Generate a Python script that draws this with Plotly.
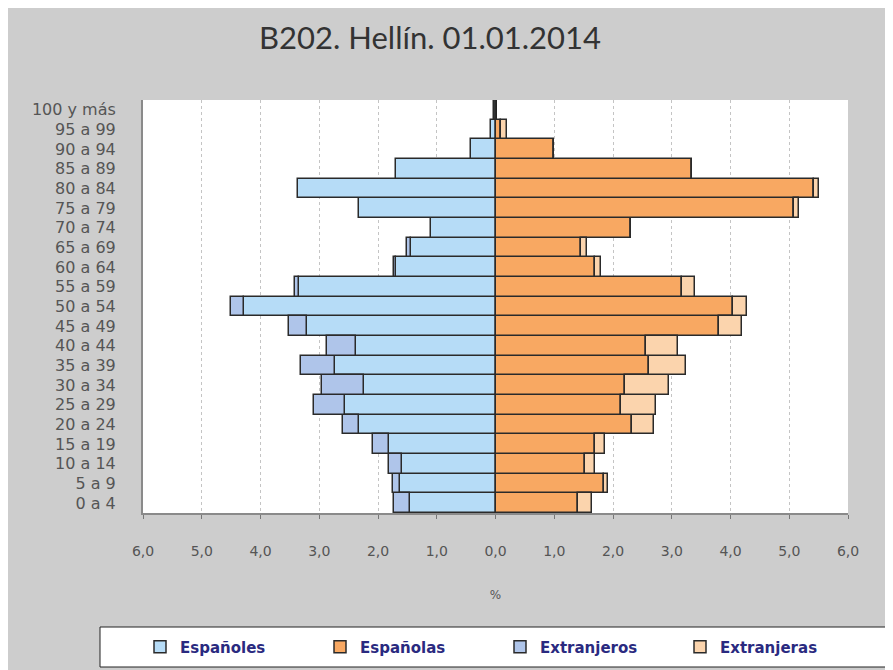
import plotly.graph_objects as go

# ---------------- data ----------------
ages = ["0 a 4", "5 a 9", "10 a 14", "15 a 19", "20 a 24", "25 a 29", "30 a 34",
        "35 a 39", "40 a 44", "45 a 49", "50 a 54", "55 a 59", "60 a 64", "65 a 69",
        "70 a 74", "75 a 79", "80 a 84", "85 a 89", "90 a 94", "95 a 99", "100 y más"]

espanoles = [1.45, 1.62, 1.60, 1.82, 2.32, 2.57, 2.23, 2.73, 2.37, 3.21, 4.28,
             3.34, 1.69, 1.43, 1.09, 2.33, 3.37, 1.69, 0.41, 0.07, 0.02]
extranjeros = [0.27, 0.13, 0.22, 0.26, 0.27, 0.52, 0.72, 0.58, 0.49, 0.30, 0.23,
               0.08, 0.03, 0.07, 0.00, 0.00, 0.00, 0.00, 0.00, 0.00, 0.00]
espanolas = [1.41, 1.84, 1.52, 1.69, 2.33, 2.13, 2.20, 2.61, 2.57, 3.80, 4.05,
             3.17, 1.69, 1.45, 2.30, 5.08, 5.42, 3.34, 0.99, 0.10, 0.00]
extranjeras = [0.24, 0.08, 0.17, 0.17, 0.36, 0.61, 0.76, 0.64, 0.53, 0.39, 0.23,
               0.22, 0.10, 0.10, 0.00, 0.08, 0.08, 0.00, 0.00, 0.09, 0.00]

x_tick_values = [-6, -5, -4, -3, -2, -1, 0, 1, 2, 3, 4, 5, 6]
x_tick_labels = ["6,0", "5,0", "4,0", "3,0", "2,0", "1,0", "0,0",
                 "1,0", "2,0", "3,0", "4,0", "5,0", "6,0"]

# ---------------- figure ----------------
W, H = 893, 670
ML, MR, MT, MB = 135, 53, 92, 165
PW, PH = W - ML - MR, H - MT - MB

outline = dict(color="#2a2a2a", width=1.5)

fig = go.Figure()
fig.add_bar(y=ages, x=[-v for v in espanoles], orientation="h", name="Españoles",
            marker=dict(color="#B6DCF7", line=outline))
fig.add_bar(y=ages, x=espanolas, orientation="h", name="Españolas",
            marker=dict(color="#F8A862", line=outline))
fig.add_bar(y=ages, x=[-v for v in extranjeros], orientation="h", name="Extranjeros",
            marker=dict(color="#AFC5EA", line=outline))
fig.add_bar(y=ages, x=extranjeras, orientation="h", name="Extranjeras",
            marker=dict(color="#FBD4AD", line=outline))


def px_x(p):
    return (p - ML) / PW


def px_y(p):
    return (H - MB - p) / PH


fig.update_layout(
    width=W, height=H,
    margin=dict(l=ML, r=MR, t=MT, b=MB),
    paper_bgcolor="#CDCDCD",
    plot_bgcolor="white",
    barmode="relative",
    bargap=0,
    title=dict(text="B202. Hellín. 01.01.2014", xref="container", yref="container",
               x=422 / W, y=1 - 30 / H, xanchor="center", yanchor="middle",
               font=dict(family="Lato", size=31, color="#333333")),
    xaxis=dict(range=[-6, 6], tickvals=x_tick_values, ticktext=x_tick_labels,
               showgrid=True, gridcolor="#c4c4c4", griddash="dot", gridwidth=1,
               zeroline=True, zerolinecolor="#222222", zerolinewidth=2,
               showline=True, linecolor="#8a8a8a", linewidth=1.5,
               ticks="outside", ticklen=4, tickcolor="#777777",
               ticklabelstandoff=20,
               tickfont=dict(family="DejaVu Sans", size=14, color="#555555"),
               title=dict(text="%", standoff=33,
                          font=dict(family="DejaVu Sans", size=12, color="#555555"))),
    yaxis=dict(categoryorder="array", categoryarray=ages,
               showgrid=False, showline=True, linecolor="#8a8a8a", linewidth=2,
               ticks="", ticklabelstandoff=22,
               tickfont=dict(family="DejaVu Sans", size=16, color="#555555")),
    legend=dict(orientation="h", x=px_x(132), y=px_y(639), xanchor="left", yanchor="middle",
                xref="paper", yref="paper",
                entrywidth=135, entrywidthmode="pixels", itemwidth=30,
                bgcolor="rgba(0,0,0,0)", borderwidth=0,
                font=dict(family="DejaVu Sans", size=15, color="#2a2a80", weight="bold"),
                traceorder="normal"),
    shapes=[
        # legend box
        dict(type="rect", xref="paper", yref="paper", layer="above",
             x0=px_x(92), x1=px_x(883), y0=px_y(659), y1=px_y(619),
             fillcolor="white", line=dict(color="#222222", width=1)),
    ],
)

fig.write_html("out.html")
